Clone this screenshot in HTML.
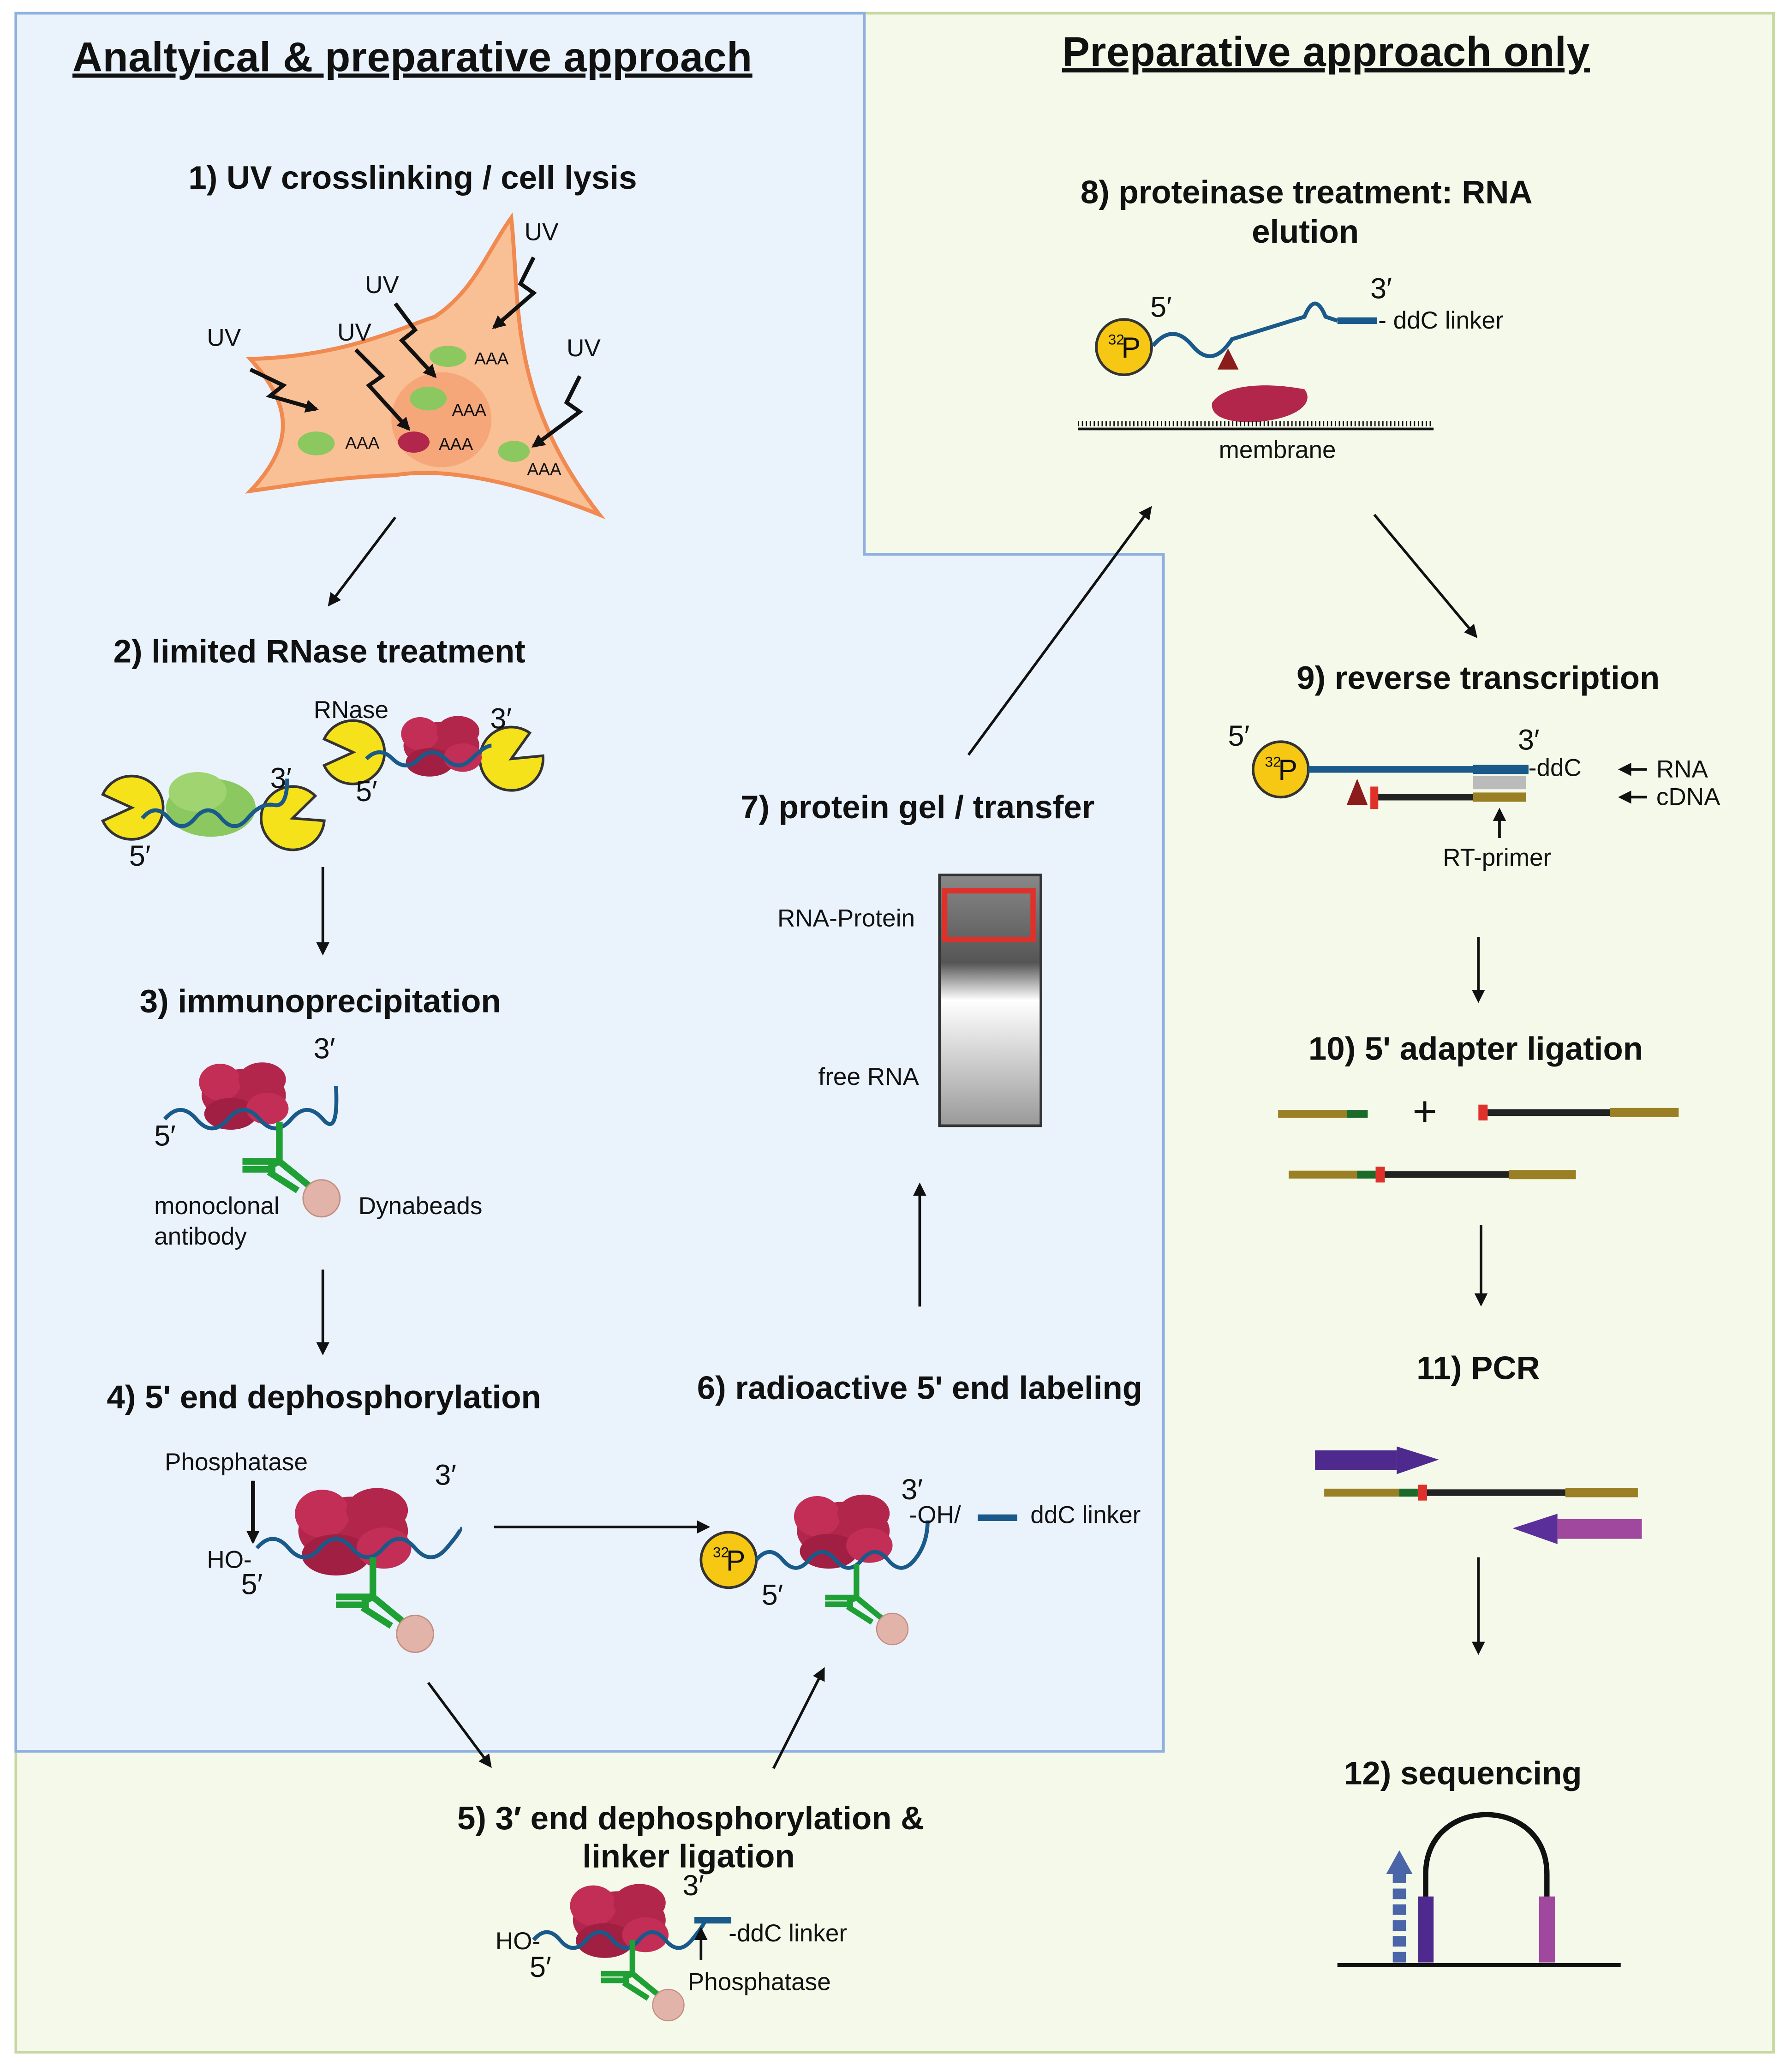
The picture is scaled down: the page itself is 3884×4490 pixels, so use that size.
<!DOCTYPE html>
<html><head><meta charset="utf-8">
<style>
html,body{margin:0;padding:0;background:#fff;}
svg{display:block;width:3884px;height:4490px;}
text{font-family:"Liberation Sans",sans-serif;fill:#111;}
.t{font-weight:bold;font-size:24.8px;}
.h{font-weight:bold;font-size:31.5px;text-decoration:underline;letter-spacing:0.2px;}
.s{font-size:18.6px;}
.m{font-size:22px;}
</style></head><body>
<svg viewBox="0 0 1360 1570" preserveAspectRatio="none" xmlns="http://www.w3.org/2000/svg">
<defs>
<marker id="a" markerWidth="10" markerHeight="10" refX="8" refY="5" orient="auto" markerUnits="userSpaceOnUse"><path d="M0,0 L10,5 L0,10 z" fill="#111"/></marker>
<g id="prot"><ellipse cx="0" cy="0" rx="32" ry="20" fill="#b3264c"/><ellipse cx="-18" cy="-10" rx="16" ry="14" fill="#c22e55"/><ellipse cx="14" cy="-12" rx="18" ry="13" fill="#b3264c"/><ellipse cx="-10" cy="14" rx="20" ry="12" fill="#a11f42"/><ellipse cx="18" cy="10" rx="16" ry="12" fill="#c22e55"/></g>
<g id="ab"><path d="M0,0 L0,30 M0,30 L22,48 M0,30 L-8,34 M-8,38 L14,52" stroke="#1ea035" stroke-width="5" fill="none"/><path d="M0,0 L0,30 L-28,30 M-3,36 L-28,36" stroke="#1ea035" stroke-width="5" fill="none"/><circle cx="32" cy="58" r="14" fill="#e2b3a8" stroke="#c48d80"/></g>
<g id="pac"><path d="M0,0 L22,-10 A24,24 0 1,0 22,10 Z" fill="#f6e21b" stroke="#333" stroke-width="2"/></g>
<g id="p32"><circle r="21" fill="#f6c814" stroke="#333" stroke-width="2"/><text x="-12" y="-2" style="font-size:11px">32</text><text x="-2" y="8" style="font-size:22px">P</text></g>
</defs>
<rect x="0" y="0" width="1360" height="1570" fill="#fff"/>
<rect x="12" y="10" width="1334" height="1545" fill="#f5f9ea" stroke="#c6d8a0" stroke-width="2"/>
<path d="M12,10 L656,10 L656,420 L883,420 L883,1327 L12,1327 Z" fill="#eaf2fc" stroke="#8fb0e0" stroke-width="2"/>
<text x="55" y="54" class="h">Analtyical &amp; preparative approach</text>
<text x="806" y="50" class="h">Preparative approach only</text>

<!-- 1 -->
<text x="143" y="143" class="t">1) UV crosslinking / cell lysis</text>
<path d="M190,372 C230,330 215,300 190,272 C260,270 300,250 330,240 C360,220 370,190 388,165 C395,230 385,300 455,390 C380,360 330,355 300,360 C250,362 220,368 190,372 Z" fill="#f9bf95" stroke="#f08a50" stroke-width="3"/>
<ellipse cx="335" cy="318" rx="38" ry="36" fill="#f6a77a"/>
<g fill="#8cc860"><ellipse cx="340" cy="270" rx="14" ry="8"/><ellipse cx="325" cy="302" rx="14" ry="9"/><ellipse cx="240" cy="336" rx="14" ry="9"/><ellipse cx="390" cy="342" rx="12" ry="8"/></g>
<ellipse cx="314" cy="335" rx="12" ry="8" fill="#b3264c"/>
<g class="s" style="font-size:13px"><text x="360" y="276" fill="#1a5a8a">AAA</text><text x="343" y="315" fill="#1a5a8a">AAA</text><text x="262" y="340" fill="#1a5a8a">AAA</text><text x="333" y="341" fill="#1a5a8a">AAA</text><text x="400" y="360" fill="#1a5a8a">AAA</text></g>
<g stroke="#111" stroke-width="3" fill="none" marker-end="url(#a)">
<path d="M190,280 L215,292 L205,300 L240,310"/><path d="M270,265 L290,285 L280,292 L310,325"/><path d="M300,230 L315,250 L305,258 L330,285"/><path d="M405,195 L395,215 L405,222 L375,248"/><path d="M440,285 L430,305 L440,312 L405,338"/></g>
<g class="s"><text x="157" y="262">UV</text><text x="256" y="258">UV</text><text x="277" y="222">UV</text><text x="398" y="182">UV</text><text x="430" y="270">UV</text></g>
<line x1="300" y1="392" x2="250" y2="458" stroke="#111" stroke-width="2" marker-end="url(#a)"/>

<!-- 2 -->
<text x="86" y="502" class="t">2) limited RNase treatment</text>
<use href="#pac" transform="translate(100,612) rotate(180)"/>
<use href="#pac" transform="translate(222,620) rotate(-20)"/>
<ellipse cx="160" cy="612" rx="34" ry="22" fill="#8cc860"/><ellipse cx="150" cy="600" rx="22" ry="15" fill="#9fd470"/>
<path d="M108,620 q10,-12 20,0 t20,0 t20,0 t20,0 t20,-10 t10,-20" stroke="#1a5a8a" stroke-width="3" fill="none"/>
<text x="98" y="656" class="m">5′</text><text x="205" y="597" class="m">3′</text>
<use href="#pac" transform="translate(268,570) rotate(180)"/>
<use href="#pac" transform="translate(388,575) rotate(-30)"/>
<use href="#prot" transform="translate(335,565) scale(0.9)"/>
<path d="M278,575 q10,-10 20,0 t20,0 t20,0 t20,0 t15,-10" stroke="#1a5a8a" stroke-width="3" fill="none"/>
<text x="238" y="544" class="s">RNase</text><text x="270" y="607" class="m">5′</text><text x="372" y="552" class="m">3′</text>
<line x1="245" y1="657" x2="245" y2="722" stroke="#111" stroke-width="2" marker-end="url(#a)"/>

<!-- 3 -->
<text x="106" y="767" class="t">3) immunoprecipitation</text>
<use href="#prot" transform="translate(185,830)"/>
<path d="M125,848 q12,-14 24,0 t24,0 t24,0 t24,0 t24,0 t10,-25" stroke="#1a5a8a" stroke-width="3" fill="none"/>
<use href="#ab" transform="translate(212,850)"/>
<text x="117" y="868" class="m">5′</text><text x="238" y="802" class="m">3′</text>
<text x="117" y="920" class="s">monoclonal</text><text x="117" y="943" class="s">antibody</text><text x="272" y="920" class="s">Dynabeads</text>
<line x1="245" y1="962" x2="245" y2="1025" stroke="#111" stroke-width="2" marker-end="url(#a)"/>

<!-- 4 -->
<text x="81" y="1067" class="t">4) 5' end dephosphorylation</text>
<use href="#prot" transform="translate(268,1160) scale(1.3)"/>
<path d="M195,1173 q12,-14 24,0 t24,0 t24,0 t24,0 t24,0 t24,0 t10,-15" stroke="#1a5a8a" stroke-width="3" fill="none"/>
<use href="#ab" transform="translate(283,1180)"/>
<text x="125" y="1114" class="s">Phosphatase</text>
<line x1="192" y1="1122" x2="192" y2="1168" stroke="#111" stroke-width="3" marker-end="url(#a)"/>
<text x="157" y="1188" class="s">HO-</text><text x="183" y="1208" class="m">5′</text><text x="330" y="1125" class="m">3′</text>
<line x1="375" y1="1157" x2="537" y2="1157" stroke="#111" stroke-width="2" marker-end="url(#a)"/>
<line x1="325" y1="1275" x2="372" y2="1338" stroke="#111" stroke-width="2" marker-end="url(#a)"/>

<!-- 5 -->
<text x="347" y="1386" class="t">5) 3′ end dephosphorylation &amp;</text>
<text x="442" y="1415" class="t">linker ligation</text>
<use href="#prot" transform="translate(470,1455) scale(1.1)"/>
<path d="M405,1470 q10,-12 20,0 t20,0 t20,0 t20,0 t20,0 t20,0 t10,-15" stroke="#1a5a8a" stroke-width="3" fill="none"/>
<line x1="527" y1="1455" x2="555" y2="1455" stroke="#1a5a8a" stroke-width="5"/>
<use href="#ab" transform="translate(480,1470) scale(0.85)"/>
<text x="376" y="1477" class="s">HO-</text><text x="402" y="1498" class="m">5′</text><text x="518" y="1436" class="m">3′</text>
<text x="553" y="1471" class="s">-ddC linker</text>
<line x1="532" y1="1485" x2="532" y2="1462" stroke="#111" stroke-width="2" marker-end="url(#a)"/>
<text x="522" y="1508" class="s">Phosphatase</text>
<line x1="587" y1="1340" x2="625" y2="1265" stroke="#111" stroke-width="2" marker-end="url(#a)"/>

<!-- 6 -->
<text x="529" y="1060" class="t">6) radioactive 5' end labeling</text>
<use href="#p32" transform="translate(553,1182)"/>
<use href="#prot" transform="translate(640,1160) scale(1.1)"/>
<path d="M574,1182 q10,-12 20,0 t20,0 t20,0 t20,0 t20,0 t20,0 t10,-30" stroke="#1a5a8a" stroke-width="3" fill="none"/>
<use href="#ab" transform="translate(650,1185) scale(0.85)"/>
<text x="578" y="1216" class="m">5′</text><text x="684" y="1136" class="m">3′</text>
<text x="690" y="1154" class="s">-OH/</text>
<line x1="742" y1="1150" x2="772" y2="1150" stroke="#1a5a8a" stroke-width="5"/>
<text x="782" y="1154" class="s">ddC linker</text>
<line x1="698" y1="990" x2="698" y2="898" stroke="#111" stroke-width="2" marker-end="url(#a)"/>

<!-- 7 -->
<text x="562" y="620" class="t">7) protein gel / transfer</text>
<defs><linearGradient id="g" x1="0" y1="0" x2="0" y2="1"><stop offset="0" stop-color="#888"/><stop offset="0.35" stop-color="#555"/><stop offset="0.5" stop-color="#fff"/><stop offset="1" stop-color="#999"/></linearGradient></defs>
<rect x="713" y="663" width="77" height="190" fill="url(#g)" stroke="#333" stroke-width="2"/>
<rect x="717" y="675" width="67" height="37" fill="none" stroke="#e0302a" stroke-width="4"/>
<text x="590" y="702" class="s">RNA-Protein</text><text x="621" y="822" class="s">free RNA</text>
<line x1="735" y1="572" x2="873" y2="385" stroke="#111" stroke-width="2" marker-end="url(#a)"/>

<!-- 8 -->
<text x="820" y="154" class="t">8) proteinase treatment: RNA</text>
<text x="950" y="184" class="t">elution</text>
<use href="#p32" transform="translate(853,263)"/>
<path d="M875,262 q15,-18 30,0 t30,-5 L990,240 q8,-20 16,0 L1015,243" stroke="#1a5a8a" stroke-width="3" fill="none"/>
<line x1="1015" y1="243" x2="1045" y2="243" stroke="#1a5a8a" stroke-width="5"/>
<path d="M924,280 L932,264 L940,280 Z" fill="#8a1c1c"/>
<path d="M920,305 C930,290 965,290 990,295 C998,305 985,318 950,320 C930,320 918,315 920,305 Z" fill="#b3264c"/>
<line x1="818" y1="325" x2="1088" y2="325" stroke="#111" stroke-width="2"/>
<line x1="818" y1="321" x2="1088" y2="321" stroke="#111" stroke-width="4" stroke-dasharray="1,2"/>
<text x="873" y="240" class="m">5′</text><text x="1040" y="226" class="m">3′</text>
<text x="1046" y="249" class="s">- ddC   linker</text>
<text x="925" y="347" class="s">membrane</text>
<line x1="1043" y1="390" x2="1120" y2="482" stroke="#111" stroke-width="2" marker-end="url(#a)"/>

<!-- 9 -->
<text x="984" y="522" class="t">9) reverse transcription</text>
<use href="#p32" transform="translate(972,583)"/>
<line x1="993" y1="583" x2="1160" y2="583" stroke="#1a5a8a" stroke-width="5"/>
<line x1="1118" y1="583" x2="1160" y2="583" stroke="#1a5a8a" stroke-width="7"/>
<rect x="1118" y="588" width="40" height="10" fill="#bbb"/>
<line x1="1045" y1="604" x2="1158" y2="604" stroke="#222" stroke-width="5"/>
<line x1="1118" y1="604" x2="1158" y2="604" stroke="#9a7f25" stroke-width="7"/>
<rect x="1040" y="596" width="6" height="17" fill="#e0302a"/>
<path d="M1022,610 L1030,590 L1038,610 Z" fill="#8a1c1c"/>
<text x="932" y="565" class="m">5′</text><text x="1152" y="568" class="m">3′</text>
<text x="1160" y="588" class="s">-ddC</text>
<line x1="1250" y1="583" x2="1230" y2="583" stroke="#111" stroke-width="2" marker-end="url(#a)"/><text x="1257" y="589" class="s">RNA</text>
<line x1="1250" y1="604" x2="1230" y2="604" stroke="#111" stroke-width="2" marker-end="url(#a)"/><text x="1257" y="610" class="s">cDNA</text>
<line x1="1138" y1="635" x2="1138" y2="614" stroke="#111" stroke-width="2" marker-end="url(#a)"/>
<text x="1095" y="656" class="s">RT-primer</text>
<line x1="1122" y1="710" x2="1122" y2="758" stroke="#111" stroke-width="2" marker-end="url(#a)"/>

<!-- 10 -->
<text x="993" y="803" class="t">10) 5' adapter ligation</text>
<line x1="970" y1="844" x2="1022" y2="844" stroke="#9a7f25" stroke-width="6"/><line x1="1022" y1="844" x2="1038" y2="844" stroke="#1b6a2a" stroke-width="6"/>
<text x="1072" y="853" style="font-size:32px">+</text>
<rect x="1122" y="837" width="7" height="12" fill="#e0302a"/>
<line x1="1129" y1="843" x2="1222" y2="843" stroke="#222" stroke-width="5"/><line x1="1222" y1="843" x2="1274" y2="843" stroke="#9a7f25" stroke-width="7"/>
<line x1="978" y1="890" x2="1030" y2="890" stroke="#9a7f25" stroke-width="6"/><line x1="1030" y1="890" x2="1044" y2="890" stroke="#1b6a2a" stroke-width="6"/>
<rect x="1044" y="884" width="7" height="12" fill="#e0302a"/>
<line x1="1051" y1="890" x2="1145" y2="890" stroke="#222" stroke-width="5"/><line x1="1145" y1="890" x2="1196" y2="890" stroke="#9a7f25" stroke-width="7"/>
<line x1="1124" y1="928" x2="1124" y2="988" stroke="#111" stroke-width="2" marker-end="url(#a)"/>

<!-- 11 -->
<text x="1075" y="1045" class="t">11) PCR</text>
<rect x="998" y="1099" width="62" height="15" fill="#4e2a8e"/><path d="M1060,1096 L1092,1106 L1060,1117 Z" fill="#4e2a8e"/>
<line x1="1005" y1="1131" x2="1062" y2="1131" stroke="#9a7f25" stroke-width="6"/><line x1="1062" y1="1131" x2="1076" y2="1131" stroke="#1b6a2a" stroke-width="6"/>
<rect x="1076" y="1125" width="7" height="12" fill="#e0302a"/>
<line x1="1083" y1="1131" x2="1188" y2="1131" stroke="#222" stroke-width="5"/><line x1="1188" y1="1131" x2="1243" y2="1131" stroke="#9a7f25" stroke-width="7"/>
<rect x="1182" y="1151" width="64" height="15" fill="#a0479e"/><path d="M1182,1147 L1148,1158 L1182,1170 Z" fill="#5a2f9a"/>
<line x1="1122" y1="1180" x2="1122" y2="1252" stroke="#111" stroke-width="2" marker-end="url(#a)"/>

<!-- 12 -->
<text x="1020" y="1352" class="t">12) sequencing</text>
<path d="M1082,1440 L1082,1420 C1082,1360 1174,1360 1174,1420 L1174,1440" stroke="#111" stroke-width="4" fill="none"/>
<rect x="1076" y="1437" width="12" height="50" fill="#4e2a8e"/><rect x="1168" y="1437" width="12" height="50" fill="#a0479e"/>
<line x1="1062" y1="1487" x2="1062" y2="1418" stroke="#4a66a8" stroke-width="10" stroke-dasharray="8,4"/>
<path d="M1052,1420 L1062,1402 L1072,1420 Z" fill="#4a66a8"/>
<line x1="1015" y1="1489" x2="1230" y2="1489" stroke="#111" stroke-width="3"/>
</svg>
</body></html>
